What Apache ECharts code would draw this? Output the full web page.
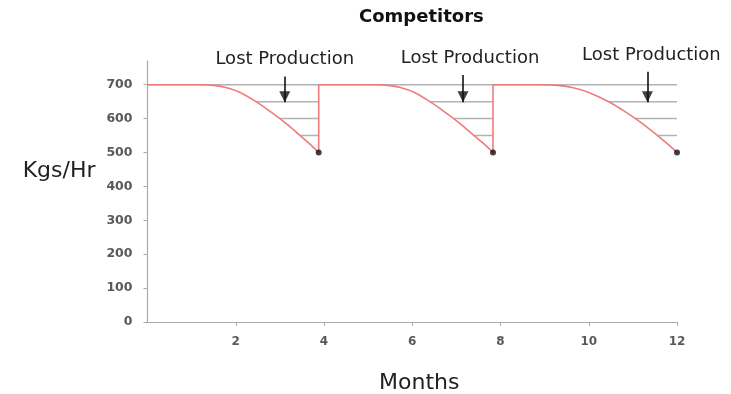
<!DOCTYPE html>
<html>
<head>
<meta charset="utf-8">
<script src="https://cdn.jsdelivr.net/npm/echarts@6/dist/echarts.min.js"></script>
<style>
  html, body { margin: 0; padding: 0; background: #ffffff; }
  #chart { width: 731px; height: 394px; }
</style>
</head>
<body>
<div id="chart"></div>
<script>
// Production rate through three maintenance cycles (months vs kgs/hr)
var cycle1Months = [0, 1.2, 1.5, 1.8, 2.1, 2.46, 2.73, 3.0, 3.24, 3.46, 3.67, 3.88];
var cycle1Rates  = [700, 700, 698, 691, 677, 650, 626, 600, 575, 550, 526, 500];
var cycle2Months = [3.88, 5.15, 5.45, 5.75, 6.05, 6.4, 6.67, 6.94, 7.18, 7.4, 7.62, 7.83];
var cycle2Rates  = [700, 700, 698, 691, 677, 650, 626, 600, 575, 550, 526, 500];
var cycle3Months = [7.83, 8.95, 9.3, 9.65, 10.0, 10.45, 10.76, 11.06, 11.32, 11.56, 11.78, 12];
var cycle3Rates  = [700, 700, 698, 691, 677, 650, 626, 600, 575, 550, 526, 500];

var ratedOutput = 700;
var lostLevels = [650, 600, 550];

var arrowMonths = [3.11, 7.15, 11.33];
var arrowTops = [724, 729, 738];
var arrowTip = 648;
var arrowText = 'Lost Production';
var arrowTextShift = [0, 7, 4];

var yTickValues = [0, 100, 200, 300, 400, 500, 600, 700];

var cycles = [
  { m: cycle1Months, r: cycle1Rates },
  { m: cycle2Months, r: cycle2Rates },
  { m: cycle3Months, r: cycle3Rates }
];

function pairs(ms, rs) {
  return ms.map(function (m, i) { return [m, rs[i]]; });
}

var red = '#f07b7b';
var hatchGray = '#b2b2b2';
var ink = '#111111';
var series = [];

// full-width rated output line
series.push({
  type: 'line', silent: true, symbol: 'none', z: 1,
  lineStyle: { color: hatchGray, width: 1.5 },
  data: [[0, ratedOutput], [12, ratedOutput]]
});

cycles.forEach(function (c, ci) {
  var endM = c.m[c.m.length - 1];
  var endR = c.r[c.r.length - 1];
  // hatch lines across the lost-production area
  lostLevels.forEach(function (lv) {
    var idx = c.r.indexOf(lv);
    series.push({
      type: 'line', silent: true, symbol: 'none', z: 1,
      lineStyle: { color: hatchGray, width: 1.5 },
      data: [[c.m[idx], lv], [endM, lv]]
    });
  });
  // decline curve
  series.push({
    type: 'line', silent: true, symbol: 'none', z: 3,
    smooth: 0.3,
    lineStyle: { color: red, width: 1.6 },
    data: pairs(c.m, c.r)
  });
  // restore after maintenance
  if (ci < cycles.length - 1) {
    series.push({
      type: 'line', silent: true, symbol: 'none', z: 3,
      lineStyle: { color: red, width: 1.6 },
      data: [[endM, endR], [endM, ratedOutput]]
    });
  }
  // end-of-cycle marker
  series.push({
    type: 'scatter', silent: true, z: 4,
    symbol: 'circle', symbolSize: 6,
    itemStyle: { color: ink },
    data: [[endM, endR]]
  });
});

// annotation arrows: shaft with caption, then head at the tip
series.push({
  type: 'line', silent: true, symbol: 'none', data: [],
  markLine: {
    silent: true,
    symbol: ['none', 'none'],
    lineStyle: { color: ink, width: 1.6, type: 'solid' },
    label: {
      show: true, position: 'start', distance: 8,
      formatter: arrowText,
      fontFamily: 'DejaVu Sans', fontSize: 18, color: '#222222'
    },
    data: arrowMonths.map(function (m, i) {
      return [
        { coord: [m, arrowTops[i]], label: { offset: [arrowTextShift[i], 0] } },
        { coord: [m, arrowTip] }
      ];
    })
  }
});
series.push({
  type: 'scatter', silent: true, z: 5,
  symbol: 'triangle', symbolSize: [11, 11], symbolRotate: 180,
  symbolOffset: [0, -5.5],
  itemStyle: { color: ink },
  data: arrowMonths.map(function (m) { return [m, arrowTip]; })
});

var chart = echarts.init(document.getElementById('chart'), null, { renderer: 'canvas' });
chart.setOption({
  animation: false,
  backgroundColor: '#ffffff',
  title: {
    text: 'Competitors',
    left: 354, top: 3,
    textStyle: { fontFamily: 'DejaVu Sans', fontWeight: 'bold', fontSize: 18, color: '#111111' }
  },
  grid: { left: 147.5, right: 54, top: 61, bottom: 72, containLabel: false, outerBoundsMode: 'none' },
  xAxis: {
    type: 'value', min: 0, max: 12, interval: 2,
    name: 'Months', nameLocation: 'middle', nameGap: 50,
    nameTextStyle: { fontFamily: 'DejaVu Sans', fontSize: 22, color: '#222222', padding: [0, 0, 0, 14] },
    axisLine: { show: true, lineStyle: { color: '#aaaaaa', width: 1.2 } },
    axisTick: { show: true, length: 4, lineStyle: { color: '#aaaaaa' } },
    axisLabel: {
      showMinLabel: false, margin: 14,
      fontFamily: 'DejaVu Sans', fontWeight: 'bold', fontSize: 12, color: '#595959'
    },
    splitLine: { show: false }
  },
  yAxis: {
    type: 'value', min: 0, max: 770, interval: 100,
    name: 'Kgs/Hr', nameLocation: 'middle', nameGap: 52, nameRotate: 0,
    nameTextStyle: {
      fontFamily: 'DejaVu Sans', fontSize: 22, color: '#222222',
      verticalAlign: 'bottom', lineHeight: 40
    },
    axisLine: { show: true, lineStyle: { color: '#aaaaaa', width: 1.2 } },
    axisTick: { show: true, length: 4, customValues: yTickValues, lineStyle: { color: '#aaaaaa' } },
    axisLabel: {
      customValues: yTickValues, margin: 15,
      fontFamily: 'DejaVu Sans', fontWeight: 'bold', fontSize: 12.5, color: '#595959'
    },
    splitLine: { show: false }
  },
  series: series
});
</script>
</body>
</html>
